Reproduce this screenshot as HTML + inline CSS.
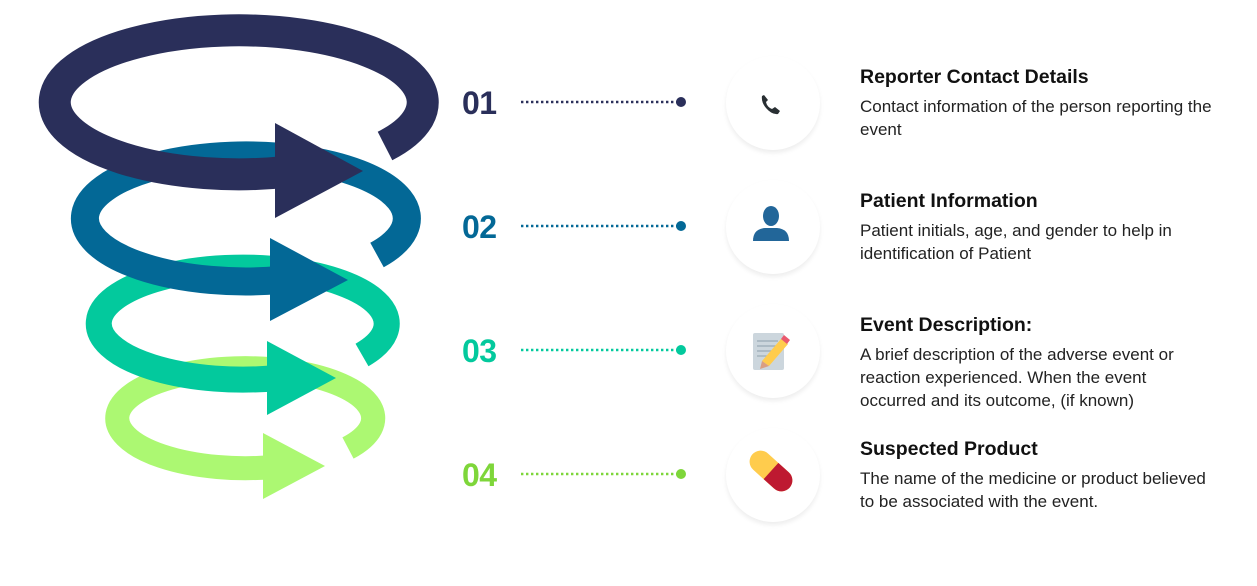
<!DOCTYPE html>
<html><head><meta charset="utf-8"><style>
body{margin:0;width:1257px;height:586px;background:#fff;position:relative;overflow:hidden;font-family:"Liberation Sans",sans-serif}
.num{position:absolute;left:462px;font-weight:bold;font-size:32px;line-height:30px;letter-spacing:-0.5px}
.t{position:absolute;left:860px;font-weight:bold;font-size:19.5px;color:#111;line-height:22px}
.b{position:absolute;left:860px;font-size:17px;color:#222;line-height:23px;width:362px}
.c{position:absolute;left:726px;width:94px;height:94px;border-radius:50%;background:#fff;box-shadow:0 3px 5px rgba(0,0,0,0.07)}
</style></head><body>
<svg width="1257" height="586" style="position:absolute;left:0;top:0">
<path d="M348,448 A128,50 0 1 0 273,467" fill="none" stroke="#acf872" stroke-width="24"/>
<polygon points="263,433 325,466 263,499" fill="#acf872"/>
<path d="M362,355 A144,56 0 1 0 277,378" fill="none" stroke="#03c99d" stroke-width="26"/>
<polygon points="267,341 336,378 267,415" fill="#03c99d"/>
<path d="M377,255 A161,63 0 1 0 280,280" fill="none" stroke="#036896" stroke-width="28"/>
<polygon points="270,238 348,280 270,321" fill="#036896"/>
<path d="M385,146 A184,72 0 1 0 285,172" fill="none" stroke="#2a2f5a" stroke-width="32"/>
<polygon points="275,123 363,171 275,218" fill="#2a2f5a"/>
<g stroke-width="2.6" stroke-dasharray="2.4 2.6" fill="none">
<line x1="521" y1="102" x2="678" y2="102" stroke="#2a2f5a"/>
<line x1="521" y1="226" x2="678" y2="226" stroke="#036896"/>
<line x1="521" y1="350" x2="678" y2="350" stroke="#03c99d"/>
<line x1="521" y1="474" x2="678" y2="474" stroke="#7ed63a"/>
</g>
<circle cx="681" cy="102" r="5" fill="#2a2f5a"/>
<circle cx="681" cy="226" r="5" fill="#036896"/>
<circle cx="681" cy="350" r="5" fill="#03c99d"/>
<circle cx="681" cy="474" r="5" fill="#7ed63a"/>
</svg>
<div class="num" style="top:88px;color:#2a2f5a">01</div>
<div class="num" style="top:212px;color:#036896">02</div>
<div class="num" style="top:336px;color:#03c99d">03</div>
<div class="num" style="top:460px;color:#7ed63a">04</div>

<div class="c" style="top:56px"></div>
<div class="c" style="top:180px"></div>
<div class="c" style="top:304px"></div>
<div class="c" style="top:428px"></div>
<svg width="1257" height="586" style="position:absolute;left:0;top:0">
<path d="M762,96 q-1,6 4,12 q6,7 12,6 l2,-3 l-5,-4 l-3,2 q-5,-2 -6,-7 l2,-2 l-4,-5 z" fill="#292f33"/>
<ellipse cx="771" cy="216" rx="8" ry="10" fill="#226699"/>
<path d="M753,241 q0,-12 12,-13 h12 q12,1 12,13 z" fill="#226699"/>
<rect x="753" y="333" width="31" height="37" rx="2" fill="#ccd6dd"/>
<g stroke="#99aab5" stroke-width="1.2"><line x1="757" y1="341" x2="778" y2="341"/><line x1="757" y1="346" x2="778" y2="346"/><line x1="757" y1="351" x2="778" y2="351"/><line x1="757" y1="356" x2="772" y2="356"/></g>
<path d="M762,361 l19,-22 l7,5 l-19,22 z" fill="#ffcc4d"/>
<path d="M781,339 l3,-4 l6,5 l-3,4 z" fill="#ea596e"/>
<path d="M762,361 l7,5 l-9,3 z" fill="#d99e82"/>
<g transform="rotate(42 771 471)">
<rect x="746" y="460" width="50" height="22" rx="11" fill="#ffcc4d"/>
<path d="M771,460 h14 a11,11 0 0 1 0,22 h-14 z" fill="#be1931"/>
</g>
</svg>

<div class="t" style="top:66px">Reporter Contact Details</div>
<div class="b" style="top:95px">Contact information of the person reporting the event</div>
<div class="t" style="top:190px">Patient Information</div>
<div class="b" style="top:219px">Patient initials, age, and gender to help in identification of Patient</div>
<div class="t" style="top:314px">Event Description:</div>
<div class="b" style="top:343px;width:330px">A brief description of the adverse event or reaction experienced. When the event occurred and its outcome, (if known)</div>
<div class="t" style="top:438px">Suspected Product</div>
<div class="b" style="top:467px">The name of the medicine or product believed to be associated with the event.</div>
</body></html>
